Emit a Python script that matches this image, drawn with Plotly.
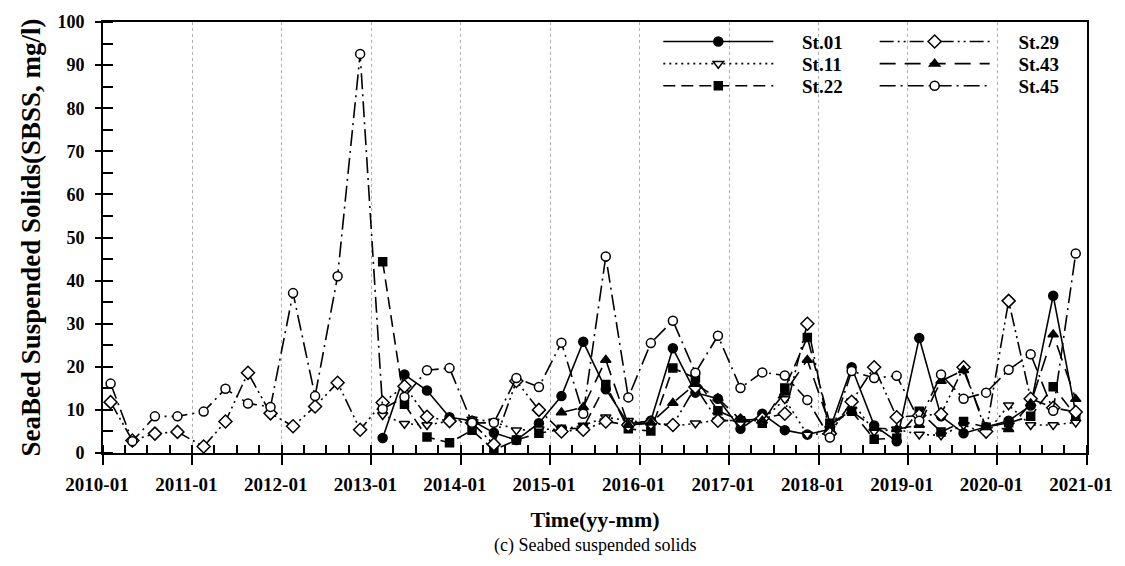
import plotly.graph_objects as go

# ---------------- data ----------------
years = list(range(2010, 2021))
months = ["02", "05", "08", "11"]
dates = [f"{y}-{m}-01" if y == 2010 else f"{y}-{m}-16" for y in years for m in months]

# stations sampled since 2010 (44 quarterly values)
st29 = [11.8, 2.9, 4.5, 4.9,
        1.5, 7.3, 18.6, 9.2,
        6.2, 10.8, 16.3, 5.4,
        11.7, 15.5, 8.4, 7.4,
        7.0, 2.0, 16.7, 10.0,
        5.0, 5.4, 7.3, 6.5,
        7.0, 6.5, 15.3, 7.5,
        7.5, 8.0, 9.1, 30.0,
        4.5, 11.9, 19.9, 8.3,
        8.7, 9.0, 19.9, 5.0,
        35.3, 12.6, 10.5, 9.5]
st45 = [16.1, 2.7, 8.5, 8.5,
        9.6, 14.9, 11.5, 10.7,
        37.1, 13.2, 41.0, 92.6,
        10.2, 13.0, 19.2, 19.7,
        7.0, 7.0, 17.4, 15.3,
        25.6, 9.1, 45.6, 12.9,
        25.5, 30.7, 18.6, 27.2,
        15.1, 18.7, 18.0, 12.3,
        3.6, 19.0, 17.4, 17.9,
        7.5, 18.2, 12.6, 14.0,
        19.3, 22.9, 9.8, 46.3]
# stations sampled since 2013 (None = no sample)
pre = [None] * 12
st01 = pre + [3.5, 18.2, 14.5, 8.3,
              7.5, 4.7, 3.0, 6.9,
              13.2, 25.8, 14.8, 6.8,
              7.5, 24.3, 14.0, 12.6,
              5.6, 9.1, 5.3, 4.3,
              5.5, 19.9, 6.4, 2.7,
              26.7, 8.5, 4.6, 6.0,
              7.5, 11.0, 36.5, 9.2]
st11 = pre + [8.8, 6.8, 6.5, 7.4,
              7.8, 7.3, 5.3, 5.5,
              5.5, 6.4, 8.3, 7.5,
              7.0, 6.2, 6.9, 7.6,
              7.5, 7.5, 12.5, 4.3,
              4.5, 12.0, 5.0, 5.5,
              4.3, 4.1, 6.5, 4.5,
              11.1, 6.5, 6.5, 7.1]
st22 = pre + [44.4, 11.3, 3.7, 2.4,
              5.3, 0.7, 3.0, 4.6,
              5.5, 5.8, 15.9, 5.6,
              5.1, 19.7, 17.4, 9.8,
              7.5, 6.9, 15.1, 26.8,
              6.9, 9.7, 3.2, 3.4,
              9.7, 4.9, 7.3, 6.0,
              7.0, 8.5, 15.4, 8.6]
st43 = pre + [None] * 8 + [9.4, 10.6, 21.6, 6.5,
                           7.0, 11.6, 16.0, 12.7,
                           7.7, 7.5, 14.0, 21.6,
                           6.5, 9.7, 5.8, 5.5,
                           6.5, 16.7, 19.2, 6.0,
                           5.5, 11.5, 27.5, 12.5]

series = [
    ("St.01", st01, "solid", "circle", "black", 9),
    ("St.11", st11, "2px,4px", "triangle-down", "white", 9),
    ("St.22", st22, "12px,6px", "square", "black", 8),
    ("St.29", st29, "14px,4px,2px,4px,2px,4px", "diamond", "white", 10),
    ("St.43", st43, "16px,9px", "triangle-up", "black", 9),
    ("St.45", st45, "16px,5px,2px,5px", "circle", "white", 9),
]

SERIF = "Liberation Serif"
NB = "\u00a0" * 5
fig = go.Figure()

legend_names = ["legend", "legend2", "legend3", "legend4", "legend5", "legend6"]
for i, (name, vals, dash, sym, fill, size) in enumerate(series):
    fig.add_trace(go.Scatter(
        x=dates, y=vals, name=NB + name, mode="lines+markers",
        line=dict(color="black", width=1.6, dash=dash),
        marker=dict(symbol=sym, size=size, color=fill,
                    line=dict(color="black", width=1.5)),
        legend=legend_names[i],
    ))

# legend placement: two columns of three rows
L, R, T, B = 103, 35, 15, 113
W, H = 1125, 566
pw, ph = W - L - R, H - T - B
col_x = [660, 877]
row_y = [35, 57.5, 80]
legend_layout = {}
for i, ln in enumerate(legend_names):
    c, r = divmod(i, 3)
    legend_layout[ln] = dict(
        x=(col_x[c] - L) / pw, y=(H - B - row_y[r]) / ph,
        xanchor="left", yanchor="middle",
        bgcolor="rgba(0,0,0,0)", borderwidth=0,
        itemwidth=110,
        font=dict(family=SERIF, size=19, color="black", weight="bold"),
    )

fig.update_layout(
    width=W, height=H,
    margin=dict(l=L, r=R, t=T, b=B),
    paper_bgcolor="white", plot_bgcolor="white",
    showlegend=True,
    **legend_layout,
)

fig.update_xaxes(
    type="date",
    range=["2010-01-01", "2021-01-01"],
    dtick="M12", tick0="2010-01-01", tickformat="%Y-%m",
    ticks="outside", ticklen=10, tickwidth=1.5, tickcolor="black",
    showline=True, linecolor="black", linewidth=2, mirror=True,
    showgrid=True, gridcolor="#b0b0b0", griddash="dot", gridwidth=1,
    minor=dict(dtick="M3", ticks="inside", ticklen=8, tickcolor="black",
               tickwidth=1.5, showgrid=False),
    tickfont=dict(family=SERIF, size=19, color="black", weight="bold"),
    ticklabelstandoff=3, ticklabelshift=-6,
    title=dict(text="Time(yy-mm)", standoff=18,
               font=dict(family=SERIF, size=22, color="black", weight="bold")),
    zeroline=False,
)
fig.update_yaxes(
    range=[0, 100], dtick=10,
    ticks="outside", ticklen=6, tickwidth=1.5, tickcolor="black",
    showline=True, linecolor="black", linewidth=2, mirror=True,
    showgrid=False, zeroline=False,
    minor=dict(dtick=5, ticks="inside", ticklen=10, tickcolor="black",
               tickwidth=1.5, showgrid=False),
    tickfont=dict(family=SERIF, size=18, color="black", weight="bold"),
    ticklabelstandoff=7,
    title=dict(text="SeaBed Suspended Solids(SBSS, mg/l)", standoff=9,
               font=dict(family=SERIF, size=27, color="black", weight="bold")),
)

fig.add_annotation(
    text="(c) Seabed suspended solids", xref="paper", yref="paper",
    x=0.5, y=-(547 - (H - B)) / ph, xanchor="center", yanchor="middle",
    showarrow=False, font=dict(family=SERIF, size=18, color="black"),
)

fig.write_html("out.html")
